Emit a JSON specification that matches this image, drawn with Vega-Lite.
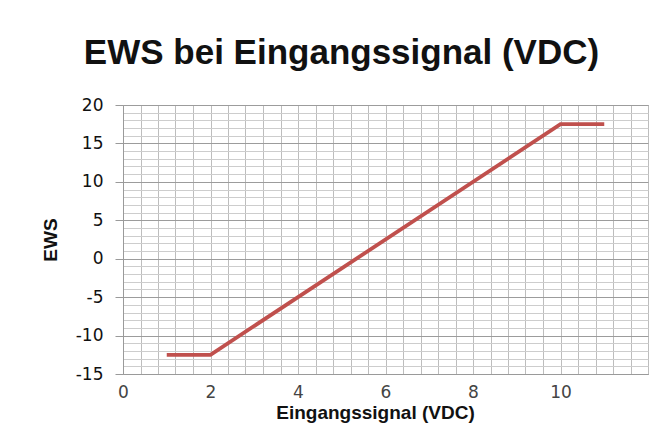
{
  "$schema": "https://vega.github.io/schema/vega-lite/v6.json",
  "autosize": {"type": "none"},
  "width": 525,
  "height": 269,
  "padding": {"left": 123, "top": 105, "right": 14, "bottom": 52},
  "background": "white",
  "title": {
    "text": "EWS bei Eingangssignal (VDC)",
    "font": "Liberation Sans",
    "fontSize": 35,
    "fontWeight": "bold",
    "color": "#111111",
    "anchor": "middle",
    "dx": -44,
    "baseline": "alphabetic",
    "offset": -3
  },
  "data": {
    "values": [
      {"V": 1, "EWS": -12.5},
      {"V": 2, "EWS": -12.5},
      {"V": 10, "EWS": 17.5},
      {"V": 11, "EWS": 17.5}
    ]
  },
  "mark": {"type": "line", "color": "#c0504d", "strokeWidth": 3.8, "clip": false},
  "encoding": {
    "x": {
      "field": "V",
      "type": "quantitative",
      "scale": {"domain": [0, 12], "nice": false, "zero": false},
      "axis": {
        "title": "Eingangssignal (VDC)",
        "values": [0, 0.4, 0.8, 1.2, 1.6, 2, 2.4, 2.8, 3.2, 3.6, 4, 4.4, 4.8, 5.2, 5.6, 6, 6.4, 6.8, 7.2, 7.6, 8, 8.4, 8.8, 9.2, 9.6, 10, 10.4, 10.8, 11.2, 11.6, 12],
        "labelExpr": "(abs(datum.value - round(datum.value / 2) * 2) < 0.001 && datum.value < 11) ? ('' + round(datum.value)) : ''",
        "labelOverlap": false,
        "labelFlush": false,
        "ticks": false,
        "grid": true,
        "gridColor": "#bdbdbd",
        "gridWidth": 1,
        "domainColor": "#9a9a9a",
        "labelFont": "DejaVu Sans",
        "labelFontSize": 17,
        "labelColor": "#444444",
        "labelPadding": 10,
        "titleFont": "Liberation Sans",
        "titleFontSize": 19,
        "titleFontWeight": "bold",
        "titleColor": "#111111",
        "titlePadding": 3,
        "titleX": 252
      }
    },
    "y": {
      "field": "EWS",
      "type": "quantitative",
      "scale": {"domain": [-15, 20], "nice": false, "zero": false},
      "axis": {
        "title": "EWS",
        "values": [-15, -14, -13, -12, -11, -10, -9, -8, -7, -6, -5, -4, -3, -2, -1, 0, 1, 2, 3, 4, 5, 6, 7, 8, 9, 10, 11, 12, 13, 14, 15, 16, 17, 18, 19, 20],
        "labelExpr": "datum.value % 5 === 0 ? ('' + datum.value) : ''",
        "labelOverlap": false,
        "labelFlush": false,
        "ticks": true,
        "tickSize": 8,
        "tickColor": {"condition": {"test": "datum.value % 5 === 0", "value": "#9a9a9a"}, "value": "transparent"},
        "grid": true,
        "gridColor": {"condition": {"test": "datum.value % 5 === 0", "value": "#9c9c9c"}, "value": "#cdcdcd"},
        "gridWidth": 1,
        "domainColor": "#9a9a9a",
        "labelFont": "DejaVu Sans",
        "labelFontSize": 17,
        "labelColor": "#111111",
        "labelPadding": 12,
        "titleFont": "Liberation Sans",
        "titleFontSize": 19,
        "titleFontWeight": "bold",
        "titleColor": "#111111",
        "titlePadding": 15
      }
    }
  },
  "config": {
    "view": {"stroke": "#a0a0a0", "strokeWidth": 1}
  }
}
